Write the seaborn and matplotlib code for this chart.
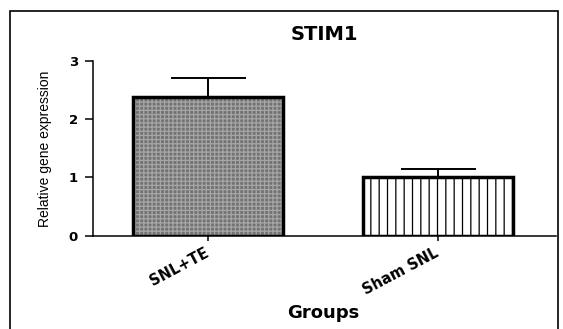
import matplotlib
matplotlib.use("Agg")
import matplotlib.pyplot as plt
import seaborn as sns
import pandas as pd
from matplotlib.patches import Rectangle

# Mean relative expression of STIM1 with SEM (upper error only)
groups = ["SNL+TE", "Sham SNL"]
expression = [2.38, 1.00]
sem = [0.33, 0.15]
y_ticks = [0, 1, 2, 3]

sns.set_theme(style="ticks")
plt.rcParams["font.family"] = ["Liberation Sans", "DejaVu Sans"]
plt.rcParams["hatch.linewidth"] = 0.9

fig = plt.figure(figsize=(5.63, 3.29), dpi=100)
ax = fig.add_axes([0.1645, 0.2836, 0.8231, 0.531])

df = pd.DataFrame({"Groups": groups, "expression": expression})
sns.barplot(data=df, x="Groups", y="expression", order=groups, width=0.65,
            errorbar=None, color="white", ax=ax, zorder=2)

# fill styles: fine grey grid stipple and white with vertical rules
fills = [dict(face="#737373", hatch="++++", hatch_color="#a6a6a6"),
         dict(face="white", hatch="||", hatch_color="black")]
for patch, style in zip(ax.patches, fills):
    patch.set_facecolor(style["face"])
    patch.set_hatch(style["hatch"])
    patch.set_edgecolor(style["hatch_color"])
    patch.set_linewidth(0)
    outline = Rectangle(patch.get_xy(), patch.get_width(), patch.get_height(),
                        fill=False, edgecolor="black", linewidth=2.5, zorder=4)
    ax.add_patch(outline)

ax.errorbar(range(len(groups)), expression, yerr=[[0] * len(sem), sem],
            fmt="none", ecolor="black", elinewidth=1.4, capsize=27,
            capthick=1.4, zorder=3)

ax.set_ylim(0, 3)
ax.set_yticks(y_ticks)
ax.set_xlim(-0.502, 1.513)
sns.despine(ax=ax)
for side in ("left", "bottom"):
    ax.spines[side].set_linewidth(1.1)
    ax.spines[side].set_color("black")

bold = ["DejaVu Sans"]
ax.tick_params(axis="y", length=6, width=1.1, pad=4.5, colors="black",
               labelsize=9.5)
ax.tick_params(axis="x", length=3.6, width=1.1, pad=8, colors="black",
               labelsize=10.5)
for lab in ax.get_yticklabels():
    lab.set_fontweight("bold")
    lab.set_family(bold)
for lab in ax.get_xticklabels():
    lab.set_fontweight("bold")
    lab.set_family(bold)
    lab.set_rotation(28)
    lab.set_ha("right")
    lab.set_va("center")
    lab.set_rotation_mode("anchor")

ax.set_title("STIM1", fontsize=14, fontweight="bold", pad=15,
             color="black", family=bold)
ax.set_xlabel("Groups", fontsize=13, fontweight="bold", color="black",
              family=bold)
ax.xaxis.set_label_coords(0.497, -0.39)
ax.xaxis.label.set_va("top")
ax.set_ylabel("Relative gene expression", fontsize=10, color="black")
ax.yaxis.set_label_coords(-0.087, 0.5)

# frame around the panel
fig.add_artist(Rectangle((0.0172, -0.05), 0.974, 1.0166, fill=False,
                         edgecolor="black", linewidth=1.2,
                         transform=fig.transFigure))

fig.savefig("out.png", dpi=100)
